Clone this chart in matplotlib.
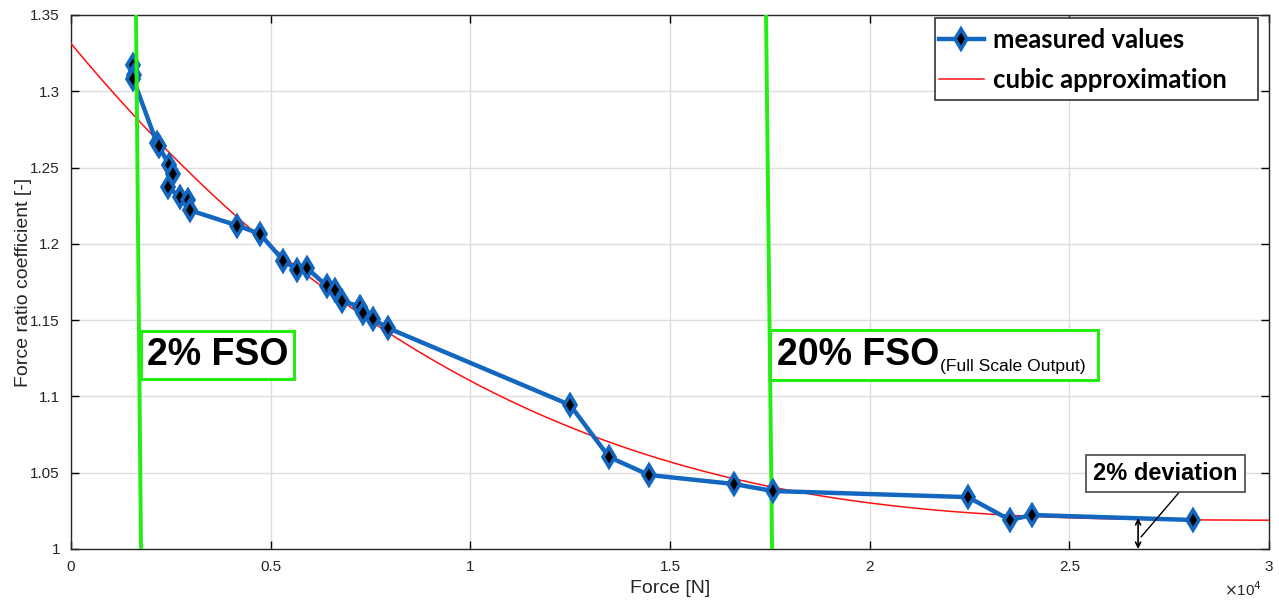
import numpy as np
import matplotlib
matplotlib.use("Agg")
import matplotlib.pyplot as plt
from matplotlib.ticker import FuncFormatter
from matplotlib.patches import Rectangle

# ---- data ----
force = [1550, 1570, 1560, 2150, 2200, 2450, 2560, 2430, 2730, 2930, 2980,
         4165, 4733, 5317, 5668, 5918, 6403, 6612, 6778, 7237, 7305, 7571,
         7947, 12497, 13473, 14475, 16604, 17581, 22464, 23516, 24059, 28108]
ratio = [1.317, 1.311, 1.308, 1.266, 1.264, 1.252, 1.246, 1.237, 1.231, 1.229,
         1.222, 1.212, 1.2065, 1.189, 1.183, 1.184, 1.1724, 1.170, 1.1627,
         1.1588, 1.1545, 1.1505, 1.1447, 1.0944, 1.0603, 1.0485, 1.0426,
         1.038, 1.034, 1.019, 1.0223, 1.019]

# points (used to recover its coefficients)
curve_x = [0, 1700, 4700, 7950, 11745, 15000, 17500, 22464, 26722, 30000]
curve_y = [1.330, 1.281, 1.207, 1.143, 1.0867, 1.0562, 1.0387, 1.0269, 1.0197, 1.018]

fso_top_x = [1628, 17405]
fso_bottom_x = [1753, 17556]

xticks = [0, 5000, 10000, 15000, 20000, 25000, 30000]
yticks = [1.0, 1.05, 1.1, 1.15, 1.2, 1.25, 1.3, 1.35]
ytick_labels = ["1", "1.05", "1.1", "1.15", "1.2", "1.25", "1.3", "1.35"]

dev_x = 26722
dev_y = [1.0, 1.0203]

# ---- figure ----
W, H = 1279, 603
fig = plt.figure(figsize=(W / 100, H / 100), dpi=100)
ax = fig.add_axes([71 / W, 1 - 549 / H, (1269 - 71) / W, (549 - 15) / H])

tickfont = ["Liberation Sans Narrow", "Liberation Sans", "DejaVu Sans"]
bold = ["Liberation Sans", "DejaVu Sans"]
blue = "#1467c0"
green = "#22ee11"

ax.set_xlim(0, 30000)
ax.set_ylim(1.0, 1.35)
ax.grid(True, color="#dedede", lw=1)
ax.set_axisbelow(True)

# cubic approximation
coef = np.polyfit(curve_x, curve_y, 3)
xs = np.linspace(0, 30000, 400)
red_line, = ax.plot(xs, np.polyval(coef, xs), color="#ff1010", lw=1.1,
                    zorder=3)

# measured
meas_line, = ax.plot(force, ratio, color=blue, lw=3.2, marker="d", ms=10.5,
                     mfc="black", mec=blue, mew=2.6, zorder=4)

# green FSO lines (first above the markers, second below)
for i, (xt, xb) in enumerate(zip(fso_top_x, fso_bottom_x)):
    ax.plot([xb, xt], [1.0, 1.35], color=green, lw=2.8,
            zorder=5 if i == 0 else 3.5, solid_capstyle="butt")

# FSO boxes
ax.text(1900, 1.1272, "2% FSO", fontsize=27, fontweight="bold", family=bold,
        va="center", ha="left", zorder=6,
        bbox=dict(boxstyle="square,pad=0.15", fc="white", ec=green, lw=2.2))
ax.add_patch(Rectangle((17506, 1.1108), 25720 - 17506, 1.1435 - 1.1108,
                       fc="white", ec=green, lw=2.2, zorder=6))
ax.text(17680, 1.1272, "20% FSO", fontsize=27, fontweight="bold",
        family=bold, va="center", ha="left", zorder=7)
ax.text(21760, 1.1199, "(Full Scale Output)", fontsize=12.6, family=bold,
        va="center", ha="left", zorder=7)

# 2% deviation annotation
ax.annotate("", xy=(dev_x, dev_y[0]), xytext=(dev_x, dev_y[1]),
            arrowprops=dict(arrowstyle="<->", color="black", lw=1.2,
                            shrinkA=0, shrinkB=0, mutation_scale=9), zorder=6)
ax.annotate("2% deviation", xy=(26797, 1.0079), xytext=(27400, 1.0495),
            fontsize=17, fontweight="bold", family=bold, ha="center",
            va="center", zorder=7,
            bbox=dict(boxstyle="square,pad=0.3", fc="white", ec="#555555", lw=1.3),
            arrowprops=dict(arrowstyle="-", color="black", lw=1.0,
                            shrinkA=0, shrinkB=0, relpos=(0.64, 0.0)))

# ticks
ax.set_xticks(xticks)
ax.xaxis.set_major_formatter(FuncFormatter(lambda v, p: f"{v / 1e4:g}"))
ax.set_yticks(yticks)
ax.set_yticklabels(ytick_labels)
ax.tick_params(direction="in", length=6, width=1, top=True, right=True,
               labelsize=11, pad=8, colors="black")
for lab in ax.get_xticklabels() + ax.get_yticklabels():
    lab.set_family(tickfont)
    lab.set_color("#262626")
for s in ax.spines.values():
    s.set_color("#262626")
    s.set_linewidth(1)

ax.set_xlabel("Force [N]", fontsize=14, family=tickfont, labelpad=4,
              color="#262626")
ax.set_ylabel("Force ratio coefficient [-]", fontsize=14, family=tickfont,
              labelpad=-1, color="#262626")
fig.text(1262 / W, 1 - 590 / H, r"$\times$10$^{4}$", fontsize=11,
         family=tickfont, ha="right", va="center", color="#262626")

# legend: frame drawn as a separate box (MATLAB-style extra right padding)
lx0, lx1 = (935 - 71) / 1198, (1258 - 71) / 1198
ly1, ly0 = (549 - 18) / 534, (549 - 100) / 534
ax.add_patch(Rectangle((lx0, ly0), lx1 - lx0, ly1 - ly0, transform=ax.transAxes,
                       fc="white", ec="#333333", lw=1.2, zorder=9))
leg = ax.legend(handles=[meas_line, red_line],
                labels=["measured values", "cubic approximation"],
                loc="upper left", bbox_to_anchor=(lx0, ly1 - 6 / 534),
                borderaxespad=0, frameon=False, handlelength=1.75,
                handletextpad=0.35, borderpad=0.15, labelspacing=0.62,
                prop=dict(family=["Lato", "DejaVu Sans"], weight="bold",
                          size=18.5))
leg.set_zorder(10)

fig.savefig("out.png", dpi=100)
